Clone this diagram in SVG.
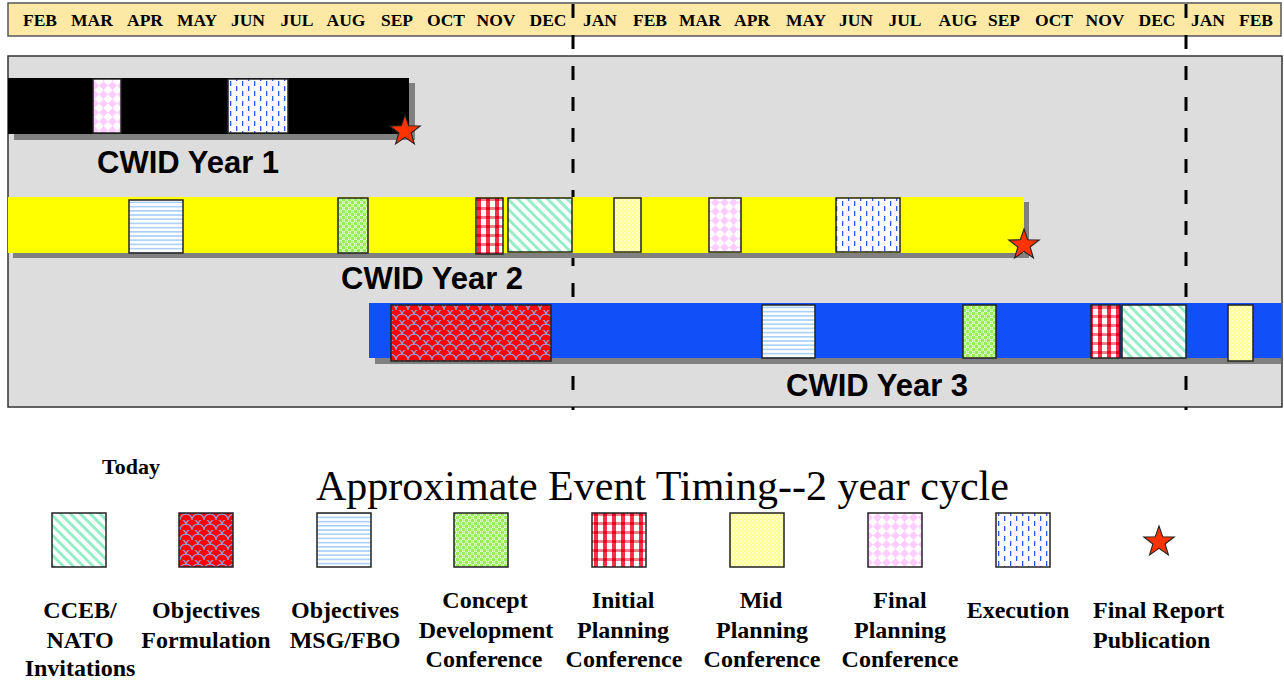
<svg xmlns="http://www.w3.org/2000/svg" width="1284" height="681" viewBox="0 0 1284 681">
<style>
.mon{font-family:"Liberation Serif","Times New Roman",serif;font-weight:bold;font-size:17.5px;fill:#000;text-anchor:middle}
.yr{font-family:"Liberation Sans",Arial,sans-serif;font-weight:bold;font-size:31px;fill:#000}
.lg{font-family:"Liberation Serif","Times New Roman",serif;font-weight:bold;font-size:24px;fill:#000;text-anchor:middle}
.ttl{font-family:"Liberation Serif","Times New Roman",serif;font-size:42px;fill:#000}
.box{stroke:#222;stroke-width:1.5}
.dash{stroke:#000;stroke-width:3;stroke-dasharray:14 17}
</style>
<defs>
<pattern id="pTeal" width="7" height="7" patternUnits="userSpaceOnUse" patternTransform="rotate(-45)">
<rect width="7" height="7" fill="#fff"/><rect width="3" height="7" fill="#96EEC6"/>
</pattern>
<pattern id="pRed" width="12" height="10" patternUnits="userSpaceOnUse">
<rect width="12" height="10" fill="#FF0000"/>
<path d="M0,10 a6,6 0 0 1 12,0 M-6,5 a6,6 0 0 1 12,0 M6,5 a6,6 0 0 1 12,0" fill="none" stroke="#8FA4D8" stroke-width="1.2"/>
</pattern>
<pattern id="pHor" width="8" height="4.2" patternUnits="userSpaceOnUse">
<rect width="8" height="4.2" fill="#fff"/><rect y="0" width="8" height="1.6" fill="#A8D0FA"/>
</pattern>
<pattern id="pGreen" width="6" height="6" patternUnits="userSpaceOnUse">
<rect width="6" height="6" fill="#fff"/>
<circle cx="1.5" cy="1.5" r="1.9" fill="#96EC50"/><circle cx="4.5" cy="4.5" r="1.9" fill="#96EC50"/>
<circle cx="4.5" cy="1.5" r="1.2" fill="#B4F88C"/><circle cx="1.5" cy="4.5" r="1.2" fill="#B4F88C"/>
</pattern>
<pattern id="pCheck" width="9" height="9" patternUnits="userSpaceOnUse">
<rect width="9" height="9" fill="#fff"/>
<rect x="0" y="0" width="9" height="3" fill="#F57A8A"/>
<rect x="0" y="0" width="4" height="9" fill="#F23048"/>
<rect x="0" y="0" width="4" height="3" fill="#E8001E"/>
</pattern>
<pattern id="pYel" width="4" height="4" patternUnits="userSpaceOnUse">
<rect width="4" height="4" fill="#FFFF99"/><circle cx="1" cy="1" r="0.8" fill="#fff"/><circle cx="3" cy="3" r="0.8" fill="#FFFFD0"/>
</pattern>
<pattern id="pPink" width="9" height="9" patternUnits="userSpaceOnUse">
<rect width="9" height="9" fill="#fff"/><polygon points="4.5,0 9,4.5 4.5,9 0,4.5" fill="#FFCCFF"/>
</pattern>
<pattern id="pBlue" width="12" height="10" patternUnits="userSpaceOnUse">
<rect width="12" height="10" fill="#fff"/>
<rect x="2" y="1" width="1.3" height="5" fill="#2458EE"/>
<rect x="8" y="6" width="1.3" height="5" fill="#2458EE"/>
<rect x="8" y="-4" width="1.3" height="5" fill="#2458EE"/>
</pattern>
<polygon id="star" points="0,-15 3.53,-4.85 14.27,-4.64 5.71,1.85 8.82,12.14 0,6 -8.82,12.14 -5.71,1.85 -14.27,-4.64 -3.53,-4.85" fill="#FF3300" stroke="#222" stroke-width="1"/>
</defs>
<rect width="1284" height="681" fill="#fff"/>

<g id="header">
<rect x="8" y="3" width="1273" height="33" fill="#FDE9A6" stroke="#555" stroke-width="1.5"/>
<text class="mon" y="26"><tspan x="40">FEB</tspan><tspan x="92">MAR</tspan><tspan x="145">APR</tspan><tspan x="197">MAY</tspan><tspan x="248">JUN</tspan><tspan x="297">JUL</tspan><tspan x="346">AUG</tspan><tspan x="397">SEP</tspan><tspan x="446">OCT</tspan><tspan x="496">NOV</tspan><tspan x="548">DEC</tspan><tspan x="600">JAN</tspan><tspan x="650">FEB</tspan><tspan x="700">MAR</tspan><tspan x="752">APR</tspan><tspan x="806">MAY</tspan><tspan x="856">JUN</tspan><tspan x="905">JUL</tspan><tspan x="958">AUG</tspan><tspan x="1004">SEP</tspan><tspan x="1054">OCT</tspan><tspan x="1105">NOV</tspan><tspan x="1157">DEC</tspan><tspan x="1208">JAN</tspan><tspan x="1256">FEB</tspan></text>
</g>

<g id="panel">
<rect x="8" y="56" width="1274" height="351" fill="#DDDDDD" stroke="#333" stroke-width="1.5"/>
</g>

<g id="connectors">
<line class="dash" x1="573" y1="4" x2="573" y2="410"/>
<line class="dash" x1="1186" y1="4" x2="1186" y2="410"/>
</g>

<g id="year1">
<rect x="14" y="83" width="401" height="57" fill="#808080"/>
<rect x="8" y="78" width="401" height="56" fill="#000"/>
<rect class="box" x="93" y="79" width="28" height="54" fill="url(#pPink)" stroke="#444"/>
<rect class="box" x="228" y="79" width="60" height="54" fill="url(#pBlue)" stroke="#444"/>
<use href="#star" transform="translate(405,131) scale(1.07)"/>
<text class="yr" x="97" y="173">CWID Year 1</text>
</g>

<g id="year2">
<rect x="13" y="202" width="1016" height="56" fill="#808080"/>
<rect x="8" y="197" width="1016" height="56" fill="#FFFF00"/>
<rect class="box" x="129" y="200" width="54" height="53" fill="url(#pHor)"/>
<rect class="box" x="338" y="198" width="30" height="55" fill="url(#pGreen)"/>
<rect class="box" x="476" y="198" width="27" height="56" fill="url(#pCheck)"/>
<rect class="box" x="508" y="198" width="64" height="54" fill="url(#pTeal)"/>
<rect class="box" x="614" y="198" width="27" height="54" fill="url(#pYel)"/>
<rect class="box" x="709" y="198" width="32" height="54" fill="url(#pPink)"/>
<rect class="box" x="836" y="198" width="64" height="54" fill="url(#pBlue)"/>
<use href="#star" transform="translate(1024,245) scale(1.07)"/>
<text class="yr" x="341" y="289">CWID Year 2</text>
</g>

<g id="year3">
<rect x="375" y="309" width="906" height="55" fill="#808080"/>
<rect x="369" y="303" width="912" height="55" fill="#1150F8"/>
<rect class="box" x="391" y="305" width="160" height="56" fill="url(#pRed)"/>
<rect class="box" x="762" y="305" width="53" height="53" fill="url(#pHor)"/>
<rect class="box" x="963" y="305" width="33" height="53" fill="url(#pGreen)"/>
<rect class="box" x="1091" y="305" width="29" height="53" fill="url(#pCheck)"/>
<rect class="box" x="1122" y="305" width="64" height="53" fill="url(#pTeal)"/>
<rect class="box" x="1228" y="305" width="25" height="56" fill="url(#pYel)"/>
<text class="yr" x="786" y="396">CWID Year 3</text>
</g>

<g id="legend">
<text x="131" y="474" class="lg" style="font-size:22px">Today</text>
<text class="ttl" x="316" y="500">Approximate Event Timing--2 year cycle</text>
</g>

<g id="leg-cceb">
<rect class="box" x="52" y="513" width="54" height="54" fill="url(#pTeal)"/>
<text class="lg"><tspan x="80" y="618">CCEB/</tspan><tspan x="80" y="648">NATO</tspan><tspan x="80" y="676">Invitations</tspan></text>
</g>
<g id="leg-objform">
<rect class="box" x="179" y="513" width="54" height="54" fill="url(#pRed)"/>
<text class="lg"><tspan x="206" y="618">Objectives</tspan><tspan x="206" y="648">Formulation</tspan></text>
</g>
<g id="leg-objmsg">
<rect class="box" x="317" y="513" width="54" height="54" fill="url(#pHor)"/>
<text class="lg"><tspan x="345" y="618">Objectives</tspan><tspan x="345" y="648">MSG/FBO</tspan></text>
</g>
<g id="leg-concept">
<rect class="box" x="454" y="513" width="54" height="54" fill="url(#pGreen)"/>
<text class="lg"><tspan x="485" y="608">Concept</tspan><tspan x="486" y="638">Development</tspan><tspan x="484" y="667">Conference</tspan></text>
</g>
<g id="leg-initial">
<rect class="box" x="592" y="513" width="54" height="54" fill="url(#pCheck)"/>
<text class="lg"><tspan x="623" y="608">Initial</tspan><tspan x="623" y="638">Planning</tspan><tspan x="624" y="667">Conference</tspan></text>
</g>
<g id="leg-mid">
<rect class="box" x="730" y="513" width="54" height="54" fill="url(#pYel)"/>
<text class="lg"><tspan x="761" y="608">Mid</tspan><tspan x="762" y="638">Planning</tspan><tspan x="762" y="667">Conference</tspan></text>
</g>
<g id="leg-final">
<rect class="box" x="868" y="513" width="54" height="54" fill="url(#pPink)"/>
<text class="lg"><tspan x="900" y="608">Final</tspan><tspan x="900" y="638">Planning</tspan><tspan x="900" y="667">Conference</tspan></text>
</g>
<g id="leg-exec">
<rect class="box" x="996" y="513" width="54" height="54" fill="url(#pBlue)"/>
<text class="lg" x="1018" y="618">Execution</text>
</g>
<g id="leg-report">
<use href="#star" transform="translate(1159,542) scale(1.07)"/>
<text class="lg" style="text-anchor:start"><tspan x="1093" y="618">Final Report</tspan><tspan x="1093" y="648">Publication</tspan></text>
</g>
</svg>
